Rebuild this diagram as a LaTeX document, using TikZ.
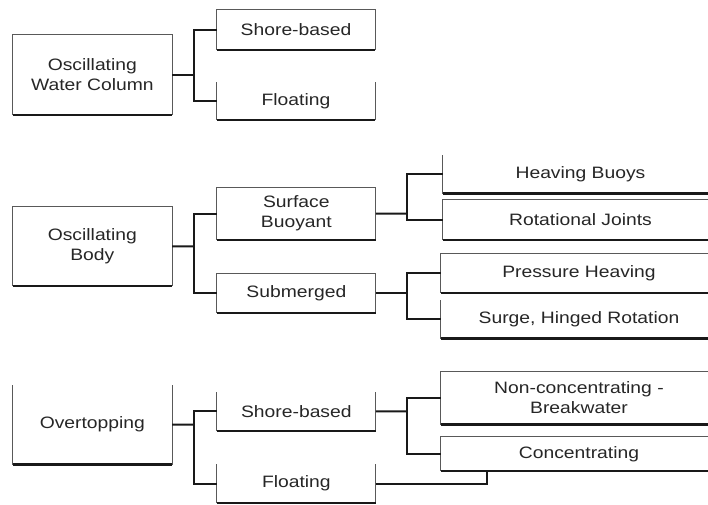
\documentclass[tikz,border=0pt]{standalone}
\usepackage{fontspec}
\setmainfont{Liberation Sans}[FakeStretch=1.17]
\usetikzlibrary{calc}
\tikzset{
  bx/.style={inner sep=0pt, align=center, text=black!85, font=\fontsize{16.5}{20}\selectfont},
  side/.style={line width=1pt, draw=black!65},
  base/.style={line width=2.2pt, draw=black!90},
  conn/.style={line width=2pt, draw=black!90},
}
\newcommand{\mkbox}[6]{% name, x1, y1, x2, y2, text
  \node[bx, minimum width={(#4-#2)*1pt}, minimum height={(#5-#3)*1pt}] (#1) at ({(#2+#4)/2},{(#3+#5)/2}) {#6};}
\newcommand{\opnbox}[1]{%
  \draw[side] (#1.south west) -- (#1.north west);
  \draw[side] (#1.south east) -- (#1.north east);
  \draw[base] (#1.south west) -- (#1.south east);}
\newcommand{\clsbox}[1]{%
  \draw[side] (#1.south west) -- (#1.north west) -- (#1.north east) -- (#1.south east);
  \draw[base] (#1.south west) -- (#1.south east);}
\begin{document}
\begin{tikzpicture}[x=1pt,y=-1pt]
\useasboundingbox (0,0) rectangle (708,504);
\clip (0,0) rectangle (708,504);
% group 1
\mkbox{owc}{12.7}{35}{172}{115}{Oscillating\\Water Column}
\mkbox{owcs}{217}{10}{375}{50}{Shore-based}
\mkbox{owcf}{217}{82}{375}{120}{Floating}
% group 2
\mkbox{ob}{12.7}{206.7}{172}{286}{Oscillating\\Body}
\mkbox{sb}{217}{187.3}{375.7}{240}{Surface\\Buoyant}
\mkbox{sub}{217}{273.3}{375.7}{312.7}{Submerged}
\mkbox{hb}{443}{155}{718}{193.3}{Heaving Buoys}
\mkbox{rj}{443}{200}{718}{240}{Rotational Joints}
\mkbox{ph}{441}{253.3}{717}{292.7}{Pressure Heaving}
\mkbox{sg}{441}{300}{717}{338.3}{Surge, Hinged Rotation}
% group 3
\mkbox{ov}{12.7}{385}{172}{464.3}{Overtopping}
\mkbox{ovs}{217}{391.7}{375.7}{431}{Shore-based}
\mkbox{ovf}{217}{464}{375.7}{503}{Floating}
\mkbox{nc}{441}{371.7}{717}{424.3}{Non-concentrating -\\Breakwater}
\mkbox{cc}{441}{436.7}{717}{471}{Concentrating}
% box outlines
\clsbox{owc}\clsbox{owcs}\opnbox{owcf}
\clsbox{ob}\clsbox{sb}\clsbox{sub}
\opnbox{hb}\clsbox{rj}\clsbox{ph}\opnbox{sg}
\opnbox{ov}\opnbox{ovs}\opnbox{ovf}\clsbox{nc}\clsbox{cc}
% connectors
\coordinate (j1) at (194,75);
\draw[conn] (owc.east) -- (j1);
\draw[conn] (owcs.west) -| (j1);
\draw[conn] (owcf.west) -| (j1);
\coordinate (j2) at (194,246.3);
\draw[conn] (ob.east) -- (j2);
\draw[conn] (sb.west) -| (j2);
\draw[conn] (sub.west) -| (j2);
\coordinate (j3) at (407.3,213.7);
\draw[conn] (sb.east) -- (j3);
\draw[conn] (hb.west) -| (j3);
\draw[conn] (rj.west) -| (j3);
\coordinate (j4) at (406.7,293);
\draw[conn] (sub.east) -- (j4);
\draw[conn] (ph.west) -| (j4);
\draw[conn] (sg.west) -| (j4);
\coordinate (j5) at (194,424.7);
\draw[conn] (ov.east) -- (j5);
\draw[conn] (ovs.west) -| (j5);
\draw[conn] (ovf.west) -| (j5);
\coordinate (j6) at (406.7,411.3);
\draw[conn] (ovs.east) -- (j6);
\draw[conn] (nc.west) -| (j6);
\draw[conn] (cc.west) -| (j6);
\coordinate (j7) at ($(cc.south west)+(45.7pt,0)$);
\draw[conn] (ovf.east) -| (j7);
\end{tikzpicture}
\end{document}
